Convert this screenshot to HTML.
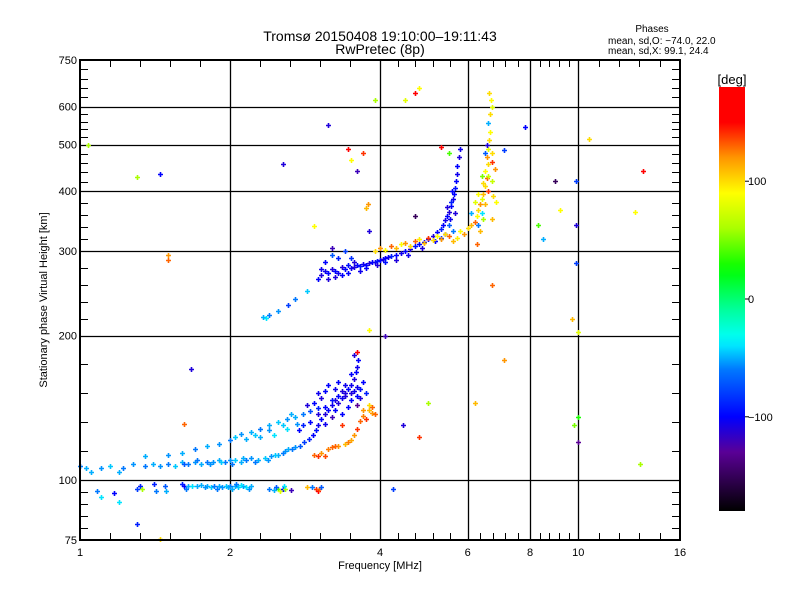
<!DOCTYPE html>
<html><head><meta charset="utf-8"><style>
body{margin:0;background:#fff;}
svg{display:block;font-family:"Liberation Sans",sans-serif;}
</style></head><body>
<svg id="chart" width="800" height="600" viewBox="0 0 800 600">
<rect width="800" height="600" fill="#fff"/>
<text x="380" y="41" font-size="14" text-anchor="middle">Tromsø 20150408 19:10:00–19:11:43</text>
<text x="380" y="54" font-size="14" text-anchor="middle">RwPretec (8p)</text>
<text x="652" y="32" font-size="10" text-anchor="middle">Phases</text>
<text x="608" y="44" font-size="10">mean, sd,O: −74.0, 22.0</text>
<text x="608" y="54" font-size="10">mean, sd,X:  99.1, 24.4</text>
<g id="grid"></g>
<g id="marks"></g>
<g id="axes"></g>
<text x="380" y="569" font-size="11" text-anchor="middle">Frequency [MHz]</text>
<text transform="translate(47,300) rotate(-90)" font-size="11" text-anchor="middle">Stationary phase Virtual Height [km]</text>
<defs><linearGradient id="cbg" x1="0" y1="1" x2="0" y2="0"></linearGradient></defs>
<rect x="719" y="87" width="26" height="424" fill="url(#cbg)"/>
<text x="732" y="84" font-size="13" text-anchor="middle">[deg]</text>
<g id="cbticks"></g>
</svg>
<script>
const xTicks = [1,2,4,6,8,10,16];
const yTicks = [75,100,200,300,400,500,600,750];
const xGrid = [2,4,6,8,10];
const yGrid = [100,200,300,400,500,600];
const cbTicks = [100,0,-100];
const eLayer = [[1.08,95,-60],[1.1,92,-40],[1.17,94,-100],[1.3,96,-80],[1.32,97,-90],[1.33,96,60],[1.48,97,-70],[1.49,95,-50],[1.6,98,-90],[1.62,97,-100],[1.65,97,-50],[1.68,97,-40],[1.72,97,-50],[1.8,97,-50],[1.83,96.5,-45],[1.86,97,-60],[1.9,97,-50],[1.93,96.5,-55],[1.96,97,-45],[2.0,97,-60],[2.02,96,-50],[2.05,97,-50],[2.08,96.5,-45],[2.12,97,-55],[2.15,96.5,-40],[2.2,97,-50],[2.4,96,-60],[2.45,95.5,-50],[2.5,96,40],[2.52,95,80],[2.55,96,-100],[2.58,96,60],[2.65,95.5,-120],[2.85,96.5,110],[2.92,96.5,-60],[2.98,96,140],[3.0,95,150],[3.02,96,130],[3.05,96.5,-70],[4.25,96,-80],[1.75,97.5,-50],[1.88,96,-60],[2.1,97.5,-40],[1.63,96,-60],[1.78,96.5,-55],[1.98,96.5,-50],[2.06,98,-60],[2.18,96,-55],[2.47,96.5,-70],[2.57,97,-40],[1.41,98,-90],[1.42,95,-60]];
const lowerTrace = [[1.0,107,-60],[1.03,106,-50],[1.05,104,-50],[1.1,106,-55],[1.15,107,-45],[1.2,104,-50],[1.22,106,-60],[1.28,108,-55],[1.35,107,-60],[1.4,108,-50],[1.45,107,-55],[1.5,108,-60],[1.55,107,-45],[1.6,109,-50],[1.65,108,-60],[1.7,109,-55],[1.75,108,-50],[1.8,109,-60],[1.85,109,-55],[1.9,110,-50],[1.95,109,-60],[2.0,110,-55],[2.05,110,-45],[2.1,109,-50],[2.15,110,-60],[2.2,111,-55],[2.28,110,-50],[2.35,111,-45],[2.42,112,-55],[2.5,113,-50],[2.56,114,-60],[2.62,116,-50],[2.7,117,-55],[2.76,118,-70],[2.82,120,-80],[2.88,122,-90],[2.94,124,-100],[2.98,127,-95],[3.0,130,-105],[3.05,134,-100],[3.1,137,-110],[3.15,140,-100],[3.2,143,-105],[3.25,147,-110],[3.3,150,-100],[3.35,148,-105],[3.4,152,-110],[3.45,155,-100],[3.5,158,-105],[3.55,162,-110],[3.58,168,-100],[3.6,172,-105],[3.62,178,-100],[3.55,182,-110],[1.62,108,-70],[1.72,110,-60],[1.82,108,-55],[1.92,109,-45],[2.02,108,-60],[2.12,111,-50],[2.25,109,-60],[2.38,110,-55],[2.46,113,-45],[2.58,115,-55],[2.66,116,-60]];
const orangeCluster = [[2.95,113,130],[3.0,112,140],[3.05,114,120],[3.1,112,135],[3.15,116,125],[3.2,117,130],[3.3,118,120],[3.4,119,110],[3.5,121,115],[3.55,124,120],[3.6,128,140],[3.65,133,130],[3.7,136,125],[3.75,134,140],[3.8,140,110],[3.85,138,120],[3.9,137,130],[3.8,143,100],[3.35,130,140],[3.45,120,125],[3.7,140,120],[3.85,142,130],[3.25,118,130]];
const upperLowTrace = [[1.35,112,-50],[1.5,113,-55],[1.6,114,-50],[1.7,116,-60],[1.8,118,-50],[1.9,119,-55],[2.0,121,-60],[2.05,123,-45],[2.1,125,-55],[2.2,126,-50],[2.3,128,-60],[2.4,130,-50],[2.5,132,-45],[2.6,134,-55],[2.7,135,-50],[2.8,137,-60],[2.9,139,-75],[3.0,141,-90],[2.95,145,-100],[3.05,148,-110],[3.1,153,-100],[3.2,147,-95],[3.25,155,-105],[3.3,160,-100],[3.4,150,-110],[3.5,166,-100],[3.45,142,-100],[3.55,153,-105],[3.65,148,-110],[3.7,160,-100],[3.75,152,-90],[2.8,130,-90],[2.85,143,-110],[3.1,131,-105],[2.75,127,-100],[3.2,135,-120],[3.35,137,-100],[3.6,143,-130],[2.6,128,-40],[2.45,124,-40],[2.3,123,-50],[2.15,122,-50],[3.0,152,-105],[3.15,158,-100],[3.3,145,-110],[3.5,147,-100],[3.6,156,-105],[2.55,130,-45],[2.65,137,-50],[2.72,131,-55],[2.9,132,-100],[3.0,137,-110],[3.1,142,-100],[3.4,158,-105],[3.5,152,-110],[3.6,150,-100],[3.65,155,-95],[3.25,140,-100],[3.35,153,-110],[2.4,127,-55],[2.25,124,-45]];
const fLayerO = [[2.33,219,-50],[2.36,218,-40],[2.4,221,-60],[2.5,225,-55],[2.62,232,-80],[2.7,238,-60],[2.85,248,-45],[3.0,262,-100],[3.05,268,-110],[3.1,272,-105],[3.15,270,-100],[3.2,275,-110],[3.25,273,-100],[3.3,270,-105],[3.35,278,-110],[3.4,275,-100],[3.45,280,-95],[3.5,276,-105],[3.55,278,-110],[3.6,280,-100],[3.65,279,-95],[3.7,282,-105],[3.75,281,-100],[3.8,283,-110],[3.85,284,-100],[3.9,285,-105],[3.95,286,-95],[4.0,287,-100],[4.05,289,-110],[4.1,290,-100],[4.15,291,-105],[4.2,293,-90],[4.3,295,-100],[4.4,297,-105],[4.5,300,-100],[4.6,303,-110],[4.7,307,-95],[4.8,310,-100],[4.9,314,-105],[5.0,318,-100],[5.1,323,-110],[5.2,328,-100],[5.3,334,-90],[5.35,340,-100],[5.4,348,-105],[5.45,355,-100],[5.5,362,-110],[5.55,372,-100],[5.6,385,-105],[5.62,395,-100],[5.65,405,-95],[5.68,420,-100],[5.7,435,-105],[5.72,450,-100],[5.75,470,-110],[5.78,490,-105],[3.3,290,-90],[3.2,295,-70],[3.4,300,-80],[3.1,285,-100],[3.5,290,-85],[5.3,320,-80],[5.5,340,-70],[5.6,330,-60],[5.4,325,-110],[3.25,265,-110],[3.45,270,-100],[3.65,272,-105],[5.55,380,-90],[5.65,360,-110],[3.05,275,-105],[3.15,262,-110],[3.35,268,-100],[3.55,284,-110],[3.75,276,-100],[3.95,280,-110],[4.1,285,-95],[4.3,288,-110],[4.55,295,-105],[4.85,305,-110],[5.15,315,-100],[5.45,370,-110],[5.58,400,-100],[5.52,350,-105]];
const fLayerX = [[3.9,300,100],[4.0,305,120],[4.1,302,90],[4.2,308,130],[4.3,304,110],[4.4,310,90],[4.5,312,120],[4.6,308,100],[4.7,315,130],[4.8,318,95],[4.9,312,110],[5.0,320,140],[5.1,316,100],[5.2,322,90],[5.3,318,120],[5.4,325,100],[5.5,322,130],[5.6,315,110],[5.7,320,95],[5.8,330,90],[5.9,325,120],[6.0,335,100],[6.1,340,110],[6.2,345,130],[6.25,355,90],[6.3,365,100],[6.35,375,120],[6.4,385,80],[6.45,395,110],[6.5,410,100],[6.55,425,130],[6.5,440,90],[6.6,455,100],[6.55,470,120],[6.6,490,80],[6.62,510,100],[6.65,530,90],[6.6,555,-50],[6.65,580,100],[6.7,600,80],[6.68,620,90],[6.62,640,100],[6.3,340,-60],[6.4,360,-40],[6.2,380,80],[6.35,330,110],[6.45,350,60],[6.6,400,140],[6.7,420,70],[6.75,390,100],[6.5,480,-70],[6.7,460,140],[6.8,445,120],[6.55,500,-110],[6.4,430,50],[6.7,350,110],[6.85,380,90],[6.25,310,130],[6.1,360,-50],[6.3,395,90],[6.45,415,100],[6.6,430,70],[6.5,375,110],[6.7,480,100]];
const scattered = [[1.04,498,60],[1.3,428,60],[1.45,435,-100],[1.5,288,130],[1.5,295,120],[1.67,170,-110],[1.62,131,130],[2.55,455,-110],[2.95,338,90],[3.2,305,-120],[3.15,550,-110],[3.45,490,150],[3.5,465,90],[3.6,440,-120],[3.7,480,140],[3.75,368,110],[3.8,330,-110],[3.8,205,90],[3.78,375,120],[3.9,618,60],[4.5,620,80],[4.7,640,150],[4.8,655,90],[5.3,495,150],[5.5,480,40],[6.7,255,130],[7.1,178,120],[7.1,487,-80],[7.8,545,-100],[8.3,340,40],[8.5,318,-50],[9.2,365,90],[9.0,420,-150],[9.9,420,-80],[9.9,340,-110],[9.9,283,-80],[10.0,120,-130],[10.0,135,30],[9.7,217,110],[10.0,203,80],[10.5,513,100],[13.0,362,90],[13.5,440,150],[13.3,108,60],[9.8,130,50],[4.7,355,-150],[4.45,130,-110],[4.8,123,140],[5.0,145,60],[6.2,145,110],[4.1,200,-120],[3.6,185,150],[1.2,90,-40],[1.45,75.5,100],[1.3,81,-90]];

const X0=80,X1=680,Y0=540,Y1=60;
function xs(f){return X0+(X1-X0)*Math.log(f/1)/Math.log(16);}
function ys(h){return Y0-(Y0-Y1)*Math.log(h/75)/Math.log(10);}
const NS='http://www.w3.org/2000/svg';
const cStops=[[-180,[0,0,0]],[-130,[90,0,150]],[-100,[0,0,255]],[-60,[0,120,255]],[-35,[0,255,255]],[-10,[0,255,160]],[25,[0,255,0]],[60,[170,255,0]],[90,[255,255,0]],[120,[255,150,0]],[150,[255,0,0]],[180,[255,0,0]]];
function col(p){for(let i=1;i<cStops.length;i++){if(p<=cStops[i][0]){const a=cStops[i-1],b=cStops[i];const t=(p-a[0])/(b[0]-a[0]);const c=a[1].map((v,k)=>Math.round(v+(b[1][k]-v)*t));return `rgb(${c})`;}}return 'rgb(255,0,0)';}
function mk(tag,attrs,parent){const e=document.createElementNS(NS,tag);for(const k in attrs)e.setAttribute(k,attrs[k]);parent.appendChild(e);return e;}
const grid=document.getElementById('grid'),axes=document.getElementById('axes'),marks=document.getElementById('marks');
xGrid.forEach(v=>{const x=Math.round(xs(v))+0.5;const l=mk('line',{x1:x,x2:x,y1:Y1,y2:Y0,stroke:'#000','stroke-width':1.3},grid);

});
yGrid.forEach(v=>{const y=Math.round(ys(v))+0.5;const l=mk('line',{x1:X0,x2:X1,y1:y,y2:y,stroke:'#000','stroke-width':1.3},grid);

});
const frame=mk('rect',{x:X0,y:Y1,width:X1-X0,height:Y0-Y1,fill:'none',stroke:'#000','stroke-width':2},axes);


for(let i=0;i<xTicks.length-1;i++){const a=Math.log(xTicks[i]),b=Math.log(xTicks[i+1]);for(let j=1;j<5;j++){const x=Math.round(xs(Math.exp(a+(b-a)*j/5)))+0.5;mk('line',{x1:x,x2:x,y1:Y0,y2:Y0-7,stroke:'#000'},axes);mk('line',{x1:x,x2:x,y1:Y1,y2:Y1+7,stroke:'#000'},axes);}}
for(let i=0;i<yTicks.length-1;i++){const a=Math.log(yTicks[i]),b=Math.log(yTicks[i+1]);for(let j=1;j<5;j++){const y=Math.round(ys(Math.exp(a+(b-a)*j/5)))+0.5;mk('line',{x1:X0,x2:X0+8,y1:y,y2:y,stroke:'#000'},axes);mk('line',{x1:X1,x2:X1-8,y1:y,y2:y,stroke:'#000'},axes);}}
xTicks.forEach(v=>{const t=mk('text',{x:xs(v),y:556,'font-size':11,'text-anchor':'middle'},axes);t.textContent=v;

});
yTicks.forEach(v=>{const t=mk('text',{x:X0-3,y:ys(v)+4,'font-size':11,'text-anchor':'end'},axes);t.textContent=v;

});
[eLayer,lowerTrace,orangeCluster,upperLowTrace,fLayerO,fLayerX,scattered].forEach(set=>set.forEach(p=>{const x=Math.round(xs(p[0]))+0.5,y=Math.round(ys(p[1]))+0.5;const m=mk('path',{d:`M${x-2.5} ${y}h5M${x} ${y-2.5}v5`,stroke:col(p[2]),'stroke-width':1.6,fill:'none'},marks);

}));
const g=document.getElementById('cbg');
for(let p=-180;p<=180;p+=10){mk('stop',{offset:((p+180)/360),'stop-color':col(p)},g);}
const cbt=document.getElementById('cbticks');
cbTicks.forEach(v=>{const y=87+424*(180-v)/360;mk('line',{x1:745,x2:749,y1:y,y2:y,stroke:'#000'},cbt);const t=mk('text',{x:748,y:y+4,'font-size':11},cbt);t.textContent=(v<0?'−':'')+Math.abs(v);

});
</script>
</body></html>
